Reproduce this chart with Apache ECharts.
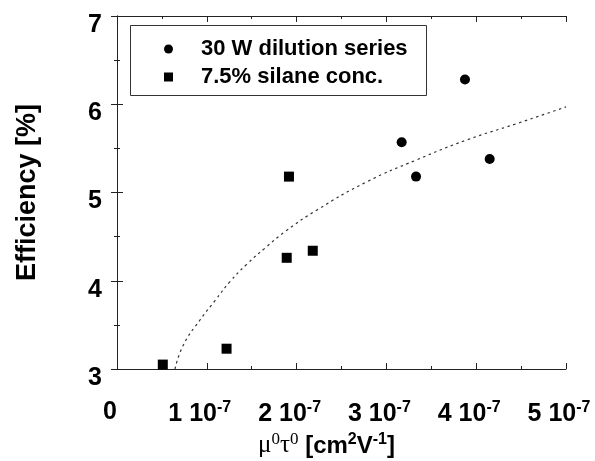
<!DOCTYPE html>
<html>
<head>
<meta charset="utf-8">
<script src="https://cdn.jsdelivr.net/npm/echarts@6/dist/echarts.min.js"></script>
<style>html,body{margin:0;padding:0;background:#fff}#c{width:595px;height:461px}</style>
</head>
<body>
<div id="c"></div>
<script>
// x values in units of 1e-7 cm^2/V
const dilutionX = [3.17, 3.33, 4.15, 3.875];
const dilutionY = [5.57, 5.18, 5.38, 6.28];
const silaneX = [1.915, 1.89, 2.18, 1.22, 0.51];
const silaneY = [5.18, 4.26, 4.34, 3.23, 3.05];
const fitX = [0.646, 0.738, 0.924, 1.091, 1.258, 1.444, 1.648, 1.871, 2.224, 2.78, 3.337, 3.894, 4.45, 5.0];
const fitY = [3.0, 3.27, 3.555, 3.774, 3.99, 4.186, 4.37, 4.556, 4.80, 5.12, 5.37, 5.595, 5.78, 5.97];
const xTicks = [0, 1, 2, 3, 4, 5];
const yTicks = [3, 4, 5, 6, 7];

const zip = (a, b) => a.map((v, i) => [v, b[i]]);
const FONT = '"Liberation Sans", Arial, sans-serif';
const axisCol = '#222';

const chart = echarts.init(document.getElementById('c'));
const baseAxis = {
  axisLine: { show: true, lineStyle: { color: axisCol, width: 1 } },
  axisTick: { show: true, inside: true, length: 6, lineStyle: { color: axisCol } },
  minorTick: { show: true, splitNumber: 2, length: 3, lineStyle: { color: axisCol } },
  splitLine: { show: false }
};
chart.setOption({
  animation: false,
  backgroundColor: '#fff',
  grid: { left: 117, right: 29, top: 16, bottom: 92, containLabel: false, outerBoundsMode: 'none' },
  xAxis: [
    Object.assign({}, baseAxis, {
      type: 'value', min: 0, max: 5, interval: 1, position: 'bottom',
      axisLabel: {
        margin: 31,
        formatter: v => {
          const n = Math.round(v);
          return n === 0 ? '{a|0}{p|}' : '{a|' + n + ' 10}{s|-7}{p|}';
        },
        rich: {
          a: { fontFamily: FONT, fontWeight: 'bold', fontSize: 25, color: '#000' },
          s: { fontFamily: FONT, fontWeight: 'bold', fontSize: 16, color: '#000', verticalAlign: 'top', padding: [0, 0, 12, 0] },
          p: { width: 14 }
        }
      },
      name: '{m|μ}{z|0}{m|τ}{z|0}{b| [cm}{c|2}{b|V}{c|-1}{b|]}{q|}',
      nameLocation: 'middle', nameGap: 62,
      nameTextStyle: {
        rich: {
          m: { fontFamily: '"Liberation Serif", "DejaVu Serif", serif', fontSize: 25, color: '#000' },
          z: { fontFamily: '"Liberation Serif", serif', fontSize: 17, color: '#000', verticalAlign: 'top', padding: [0, 0, 12, 0] },
          b: { fontFamily: FONT, fontWeight: 'bold', fontSize: 24, color: '#000' },
          c: { fontFamily: FONT, fontWeight: 'bold', fontSize: 16, color: '#000', verticalAlign: 'top', padding: [0, 0, 10, 0] },
          q: { width: 30 }
        }
      }
    }),
    Object.assign({}, baseAxis, {
      type: 'value', min: 0, max: 5, interval: 1, position: 'top',
      axisLabel: { show: false }
    })
  ],
  yAxis: [
    Object.assign({}, baseAxis, {
      type: 'value', min: 3, max: 7, interval: 1, position: 'left',
      axisLabel: {
        margin: 15,
        formatter: v => '{a|' + Math.round(v) + '}',
        rich: { a: { fontFamily: FONT, fontWeight: 'bold', fontSize: 25, color: '#000', padding: [18, 0, 0, 0] } }
      },
      name: 'Efficiency [%]', nameLocation: 'middle', nameGap: 76, nameRotate: 90,
      nameTextStyle: { fontFamily: FONT, fontWeight: 'bold', fontSize: 27, color: '#000' }
    }),
    Object.assign({}, baseAxis, {
      type: 'value', min: 3, max: 7, interval: 1, position: 'right',
      axisLabel: { show: false }
    })
  ],
  legend: {
    left: 164, top: 38, orient: 'vertical', padding: 0,
    itemWidth: 9, itemHeight: 9, itemGap: 6,
    data: [
      { name: '30 W dilution series', icon: 'circle' },
      { name: '7.5% silane conc.', icon: 'rect' }
    ],
    textStyle: { fontFamily: FONT, fontWeight: 'bold', fontSize: 22, lineHeight: 21, color: '#000', padding: [0, 0, 0, 23] }
  },
  graphic: [{
    type: 'rect', shape: { x: 130.5, y: 25.5, width: 296, height: 70 },
    style: { fill: 'none', stroke: '#333', lineWidth: 1 }, z: 10
  }],
  series: [
    {
      name: 'fit', type: 'line', data: zip(fitX, fitY), symbol: 'none', smooth: true,
      lineStyle: { color: '#333', width: 1.2, type: [2.5, 3.5] }, clip: true, z: 1
    },
    {
      name: '30 W dilution series', type: 'scatter', data: zip(dilutionX, dilutionY),
      symbol: 'circle', symbolSize: 10, itemStyle: { color: '#000', opacity: 1 }, z: 3
    },
    {
      name: '7.5% silane conc.', type: 'scatter', data: zip(silaneX, silaneY),
      symbol: 'rect', symbolSize: 10, itemStyle: { color: '#000', opacity: 1 }, z: 3
    }
  ]
});
</script>
</body>
</html>
